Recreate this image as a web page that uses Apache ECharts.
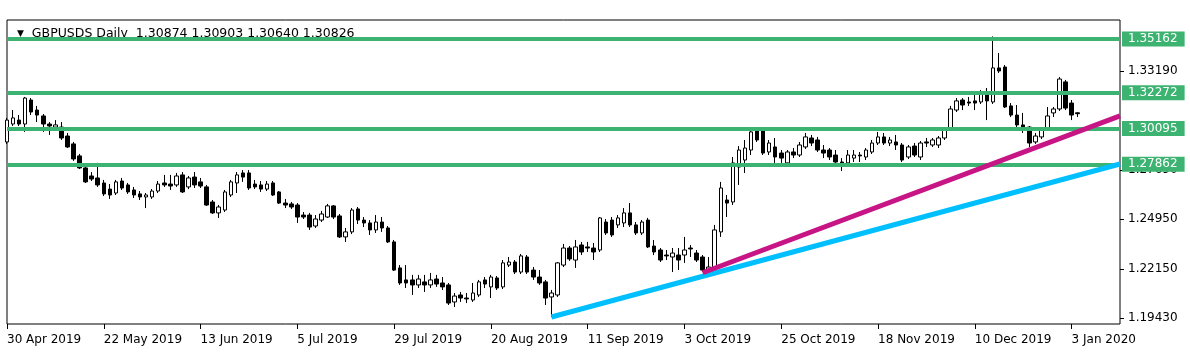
<!DOCTYPE html>
<html>
<head>
<meta charset="utf-8">
<script src="https://cdn.jsdelivr.net/npm/echarts@6/dist/echarts.min.js"></script>
<style>
  html, body { margin: 0; padding: 0; background: #fff; }
  #chart { width: 1190px; height: 355px; }
</style>
</head>
<body>
<div id="chart"></div>
<script>
// trading days on the chart, grouped by month
const tradingDays = [
  ['Apr 2019', [30]],
  ['May 2019', [1, 2, 3, 6, 7, 8, 9, 10, 13, 14, 15, 16, 17, 20, 21, 22, 23, 24, 27, 28, 29, 30, 31]],
  ['Jun 2019', [3, 4, 5, 6, 7, 10, 11, 12, 13, 14, 17, 18, 19, 20, 21, 24, 25, 26, 27, 28]],
  ['Jul 2019', [1, 2, 3, 4, 5, 8, 9, 10, 11, 12, 15, 16, 17, 18, 19, 22, 23, 24, 25, 26, 29, 30, 31]],
  ['Aug 2019', [1, 2, 5, 6, 7, 8, 9, 12, 13, 14, 15, 16, 19, 20, 21, 22, 23, 26, 27, 28, 29, 30]],
  ['Sep 2019', [2, 3, 4, 5, 6, 9, 10, 11, 12, 13, 16, 17, 18, 19, 20, 23, 24, 25, 26, 27, 30]],
  ['Oct 2019', [1, 2, 3, 4, 7, 8, 9, 10, 11, 14, 15, 16, 17, 18, 21, 22, 23, 24, 25, 28, 29, 30, 31]],
  ['Nov 2019', [1, 4, 5, 6, 7, 8, 11, 12, 13, 14, 15, 18, 19, 20, 21, 22, 25, 26, 27, 28, 29]],
  ['Dec 2019', [2, 3, 4, 5, 6, 9, 10, 11, 12, 13, 16, 17, 18, 19, 20, 23, 24, 26, 27, 30, 31]],
  ['Jan 2020', [2, 3, 6]]
];

// daily bars: [open, high, low, close]
const ohlc = [
  // Apr / May
  [1.2925, 1.3059, 1.2914, 1.3047],
  [1.3025, 1.3103, 1.3014, 1.3059],
  [1.3047, 1.3075, 1.3014, 1.3025],
  [1.3025, 1.3176, 1.2981, 1.3170],
  [1.3159, 1.3170, 1.3075, 1.3092],
  [1.3103, 1.3126, 1.3036, 1.3075],
  [1.3070, 1.3081, 1.2981, 1.3025],
  [1.3025, 1.3036, 1.2964, 1.3014],
  [1.3008, 1.3047, 1.2992, 1.3020],
  [1.3008, 1.3036, 1.2936, 1.2947],
  [1.2958, 1.2975, 1.2891, 1.2897],
  [1.2914, 1.2925, 1.2819, 1.2830],
  [1.2847, 1.2858, 1.2774, 1.2780],
  [1.2780, 1.2796, 1.2696, 1.2702],
  [1.2735, 1.2757, 1.2707, 1.2718],
  [1.2724, 1.2808, 1.2674, 1.2685],
  [1.2696, 1.2713, 1.2623, 1.2635],
  [1.2662, 1.2690, 1.2607, 1.2629],
  [1.2640, 1.2713, 1.2629, 1.2702],
  [1.2707, 1.2724, 1.2657, 1.2668],
  [1.2685, 1.2696, 1.2635, 1.2646],
  [1.2657, 1.2674, 1.2612, 1.2629],
  [1.2635, 1.2651, 1.2601, 1.2618],
  [1.2618, 1.2640, 1.2556, 1.2629],
  // Jun
  [1.2618, 1.2662, 1.2607, 1.2651],
  [1.2651, 1.2707, 1.2640, 1.2690],
  [1.2696, 1.2741, 1.2674, 1.2685],
  [1.2690, 1.2741, 1.2657, 1.2679],
  [1.2685, 1.2752, 1.2674, 1.2735],
  [1.2741, 1.2757, 1.2640, 1.2646],
  [1.2674, 1.2735, 1.2662, 1.2724],
  [1.2729, 1.2757, 1.2668, 1.2685],
  [1.2702, 1.2724, 1.2668, 1.2679],
  [1.2674, 1.2685, 1.2568, 1.2573],
  [1.2590, 1.2601, 1.2523, 1.2529],
  [1.2529, 1.2573, 1.2501, 1.2562],
  [1.2545, 1.2657, 1.2534, 1.2646],
  [1.2629, 1.2713, 1.2618, 1.2702],
  [1.2696, 1.2757, 1.2640, 1.2741],
  [1.2752, 1.2768, 1.2702, 1.2729],
  [1.2752, 1.2768, 1.2657, 1.2668],
  [1.2690, 1.2713, 1.2662, 1.2674],
  [1.2685, 1.2707, 1.2646, 1.2662],
  [1.2662, 1.2707, 1.2651, 1.2690],
  // Jul
  [1.2696, 1.2707, 1.2623, 1.2629],
  [1.2646, 1.2651, 1.2579, 1.2584],
  [1.2584, 1.2607, 1.2556, 1.2573],
  [1.2579, 1.2590, 1.2551, 1.2562],
  [1.2573, 1.2584, 1.2473, 1.2506],
  [1.2517, 1.2534, 1.2495, 1.2506],
  [1.2517, 1.2529, 1.2434, 1.2450],
  [1.2456, 1.2517, 1.2445, 1.2495],
  [1.2489, 1.2540, 1.2478, 1.2523],
  [1.2506, 1.2579, 1.2501, 1.2568],
  [1.2568, 1.2573, 1.2495, 1.2506],
  [1.2512, 1.2523, 1.2389, 1.2395],
  [1.2395, 1.2445, 1.2367, 1.2423],
  [1.2423, 1.2556, 1.2411, 1.2545],
  [1.2551, 1.2562, 1.2467, 1.2489],
  [1.2489, 1.2506, 1.2450, 1.2473],
  [1.2473, 1.2489, 1.2406, 1.2434],
  [1.2434, 1.2517, 1.2417, 1.2478],
  [1.2478, 1.2506, 1.2423, 1.2445],
  [1.2445, 1.2456, 1.2361, 1.2367],
  [1.2367, 1.2378, 1.2205, 1.2210],
  [1.2222, 1.2238, 1.2127, 1.2138],
  [1.2155, 1.2238, 1.2110, 1.2138],
  // Aug
  [1.2155, 1.2183, 1.2071, 1.2127],
  [1.2127, 1.2183, 1.2110, 1.2160],
  [1.2144, 1.2183, 1.2088, 1.2127],
  [1.2127, 1.2194, 1.2110, 1.2155],
  [1.2160, 1.2183, 1.2116, 1.2132],
  [1.2138, 1.2171, 1.2099, 1.2116],
  [1.2127, 1.2138, 1.2015, 1.2026],
  [1.2032, 1.2082, 1.2004, 1.2065],
  [1.2071, 1.2088, 1.2032, 1.2054],
  [1.2054, 1.2082, 1.2026, 1.2049],
  [1.2043, 1.2138, 1.2032, 1.2082],
  [1.2071, 1.2155, 1.2060, 1.2144],
  [1.2155, 1.2171, 1.2110, 1.2132],
  [1.2116, 1.2183, 1.2054, 1.2171],
  [1.2166, 1.2177, 1.2099, 1.2110],
  [1.2116, 1.2266, 1.2104, 1.2250],
  [1.2238, 1.2283, 1.2227, 1.2255],
  [1.2255, 1.2266, 1.2188, 1.2199],
  [1.2199, 1.2300, 1.2188, 1.2289],
  [1.2283, 1.2294, 1.2188, 1.2199],
  [1.2210, 1.2227, 1.2155, 1.2171],
  [1.2171, 1.2210, 1.2127, 1.2138],
  // Sep
  [1.2144, 1.2155, 1.2015, 1.2054],
  [1.2060, 1.2099, 1.1948, 1.2082],
  [1.2071, 1.2255, 1.2060, 1.2250],
  [1.2238, 1.2356, 1.2227, 1.2333],
  [1.2333, 1.2344, 1.2261, 1.2272],
  [1.2266, 1.2378, 1.2222, 1.2339],
  [1.2350, 1.2367, 1.2294, 1.2311],
  [1.2339, 1.2367, 1.2311, 1.2333],
  [1.2333, 1.2361, 1.2266, 1.2311],
  [1.2322, 1.2506, 1.2311, 1.2501],
  [1.2478, 1.2495, 1.2406, 1.2417],
  [1.2489, 1.2506, 1.2395, 1.2406],
  [1.2462, 1.2517, 1.2445, 1.2501],
  [1.2473, 1.2556, 1.2450, 1.2529],
  [1.2529, 1.2584, 1.2450, 1.2462],
  [1.2462, 1.2478, 1.2406, 1.2417],
  [1.2417, 1.2489, 1.2406, 1.2478],
  [1.2489, 1.2501, 1.2333, 1.2339],
  [1.2344, 1.2378, 1.2294, 1.2311],
  [1.2322, 1.2333, 1.2255, 1.2266],
  [1.2294, 1.2322, 1.2266, 1.2289],
  // Oct
  [1.2283, 1.2333, 1.2199, 1.2305],
  [1.2294, 1.2333, 1.2210, 1.2266],
  [1.2294, 1.2395, 1.2250, 1.2322],
  [1.2333, 1.2350, 1.2283, 1.2328],
  [1.2305, 1.2322, 1.2255, 1.2266],
  [1.2283, 1.2294, 1.2199, 1.2210],
  [1.2210, 1.2283, 1.2199, 1.2227],
  [1.2222, 1.2462, 1.2210, 1.2434],
  [1.2423, 1.2702, 1.2395, 1.2668],
  [1.2601, 1.2629, 1.2506, 1.2584],
  [1.2590, 1.2841, 1.2573, 1.2808],
  [1.2785, 1.2902, 1.2685, 1.2880],
  [1.2824, 1.2936, 1.2752, 1.2891],
  [1.2880, 1.3003, 1.2852, 1.2981],
  [1.2992, 1.3003, 1.2925, 1.2936],
  [1.2992, 1.3003, 1.2852, 1.2863],
  [1.2869, 1.2936, 1.2852, 1.2919],
  [1.2897, 1.2947, 1.2808, 1.2841],
  [1.2863, 1.2880, 1.2808, 1.2835],
  [1.2808, 1.2880, 1.2796, 1.2869],
  [1.2869, 1.2891, 1.2835, 1.2852],
  [1.2852, 1.2925, 1.2841, 1.2908],
  [1.2897, 1.2975, 1.2886, 1.2953],
  // Nov
  [1.2947, 1.2964, 1.2902, 1.2919],
  [1.2936, 1.2953, 1.2869, 1.2880],
  [1.2880, 1.2908, 1.2835, 1.2863],
  [1.2880, 1.2891, 1.2824, 1.2841],
  [1.2852, 1.2880, 1.2808, 1.2813],
  [1.2813, 1.2835, 1.2763, 1.2808],
  [1.2808, 1.2880, 1.2796, 1.2852],
  [1.2835, 1.2880, 1.2813, 1.2852],
  [1.2852, 1.2869, 1.2813, 1.2847],
  [1.2841, 1.2891, 1.2824, 1.2880],
  [1.2869, 1.2936, 1.2858, 1.2919],
  [1.2919, 1.2981, 1.2908, 1.2953],
  [1.2953, 1.2975, 1.2908, 1.2919],
  [1.2919, 1.2953, 1.2902, 1.2936],
  [1.2925, 1.2964, 1.2880, 1.2908],
  [1.2908, 1.2919, 1.2813, 1.2824],
  [1.2841, 1.2908, 1.2830, 1.2897],
  [1.2902, 1.2919, 1.2841, 1.2852],
  [1.2841, 1.2930, 1.2824, 1.2919],
  [1.2925, 1.2947, 1.2897, 1.2919],
  [1.2908, 1.2947, 1.2897, 1.2936],
  // Dec
  [1.2908, 1.2958, 1.2891, 1.2947],
  [1.2947, 1.3003, 1.2936, 1.2992],
  [1.2997, 1.3126, 1.2986, 1.3109],
  [1.3103, 1.3170, 1.3092, 1.3154],
  [1.3159, 1.3170, 1.3103, 1.3131],
  [1.3148, 1.3176, 1.3126, 1.3142],
  [1.3154, 1.3209, 1.3103, 1.3142],
  [1.3148, 1.3215, 1.3137, 1.3198],
  [1.3198, 1.3226, 1.3047, 1.3154],
  [1.3148, 1.3514, 1.3137, 1.3338],
  [1.3338, 1.3421, 1.3310, 1.3321],
  [1.3343, 1.3354, 1.3114, 1.3120],
  [1.3126, 1.3142, 1.3064, 1.3075],
  [1.3075, 1.3131, 1.3003, 1.3020],
  [1.3020, 1.3087, 1.2975, 1.2992],
  [1.3008, 1.3014, 1.2897, 1.2919],
  [1.2925, 1.2975, 1.2914, 1.2958],
  [1.2953, 1.3008, 1.2941, 1.2997],
  [1.2997, 1.3120, 1.2986, 1.3070],
  [1.3087, 1.3120, 1.3064, 1.3109],
  [1.3109, 1.3287, 1.3098, 1.3276],
  // Jan
  [1.3260, 1.3271, 1.3103, 1.3114],
  [1.3142, 1.3159, 1.3047, 1.3075],
  [1.30874, 1.30903, 1.30640, 1.30826]
];

const emptySlots = 7;                 // free space right of the last bar
const labelEvery = 16;                // bars between date labels
const priceTicks = [1.19430, 1.22150, 1.24950, 1.27690, 1.33190];
const levels = [1.35162, 1.32272, 1.30095, 1.27862];
const lastPrice = 1.30826;
const blueTrend = [[90, 1.1948], [184, 1.2802]];
const magentaTrend = [[115, 1.2195], [184, 1.3070]];

const dates = [];
tradingDays.forEach(([month, days]) => days.forEach(d => dates.push(d + ' ' + month)));
const categories = dates.concat(new Array(emptySlots).fill(''));
const candles = ohlc.map(([o, h, l, c]) => [o, c, l, h]);
const lastLabelIndex = Math.floor((dates.length - 1) / labelEvery) * labelEvery;
const showDate = (i) => i % labelEvery === 0 && i <= lastLabelIndex;

const font = 'DejaVu Sans';
const green = '#3cb371';

const chart = echarts.init(document.getElementById('chart'));

chart.setOption({
  animation: false,
  backgroundColor: '#fff',
  textStyle: { fontFamily: font },
  title: {
    text: '{t|▼}  GBPUSDS Daily  1.30874 1.30903 1.30640 1.30826',
    left: 12,
    top: 22,
    z: 0,
    textStyle: {
      fontFamily: font,
      fontSize: 12.5,
      fontWeight: 'normal',
      color: '#000',
      rich: { t: { fontSize: 9, color: '#000', fontFamily: font } }
    }
  },
  grid: {
    left: 7,
    right: 70,
    top: 20,
    bottom: 31,
    show: true,
    borderColor: '#000',
    borderWidth: 1
  },
  xAxis: {
    type: 'category',
    data: categories,
    boundaryGap: false,
    axisLine: { show: false },
    axisTick: {
      show: true,
      length: 5,
      interval: showDate,
      lineStyle: { color: '#000' }
    },
    axisLabel: {
      interval: showDate,
      align: 'left',
      margin: 10,
      color: '#000',
      fontSize: 12,
      fontFamily: font
    },
    splitLine: { show: false }
  },
  yAxis: {
    type: 'value',
    position: 'right',
    min: 1.190905,
    max: 1.360548,
    scale: true,
    axisLine: { show: false },
    axisTick: {
      show: true,
      length: 4,
      customValues: priceTicks,
      lineStyle: { color: '#000' }
    },
    axisLabel: {
      customValues: priceTicks,
      margin: 8,
      color: '#000',
      fontSize: 12,
      fontFamily: font,
      formatter: (v) => v.toFixed(5)
    },
    splitLine: { show: false }
  },
  series: [
    {
      type: 'candlestick',
      data: candles,
      barWidth: 4,
      z: 2,
      itemStyle: {
        color: '#fff',
        color0: '#000',
        borderColor: '#000',
        borderColor0: '#000',
        borderWidth: 1
      },
      markLine: {
        silent: true,
        symbol: 'none',
        animation: false,
        z: 5,
        data: levels.map(v => ({
          yAxis: v,
          lineStyle: { color: green, width: 4, type: 'solid' },
          label: {
            show: true,
            position: 'end',
            distance: 2,
            formatter: () => v.toFixed(5),
            color: '#fff',
            backgroundColor: green,
            padding: [2, 7, 1, 6],
            fontSize: 12,
            fontFamily: font
          }
        })).concat([{
          yAxis: lastPrice,
          lineStyle: { opacity: 0 },
          label: {
            show: true,
            position: 'end',
            distance: 2,
            formatter: () => lastPrice.toFixed(5),
            color: '#fff',
            backgroundColor: '#000',
            padding: [2, 7, 1, 6],
            fontSize: 12,
            fontFamily: font
          }
        }])
      }
    },
    {
      type: 'line',
      data: blueTrend,
      symbol: 'none',
      z: 6,
      lineStyle: { color: '#00bfff', width: 5 },
      silent: true
    },
    {
      type: 'line',
      data: magentaTrend,
      symbol: 'none',
      z: 7,
      lineStyle: { color: '#c71585', width: 5 },
      silent: true
    }
  ]
});
</script>
</body>
</html>
